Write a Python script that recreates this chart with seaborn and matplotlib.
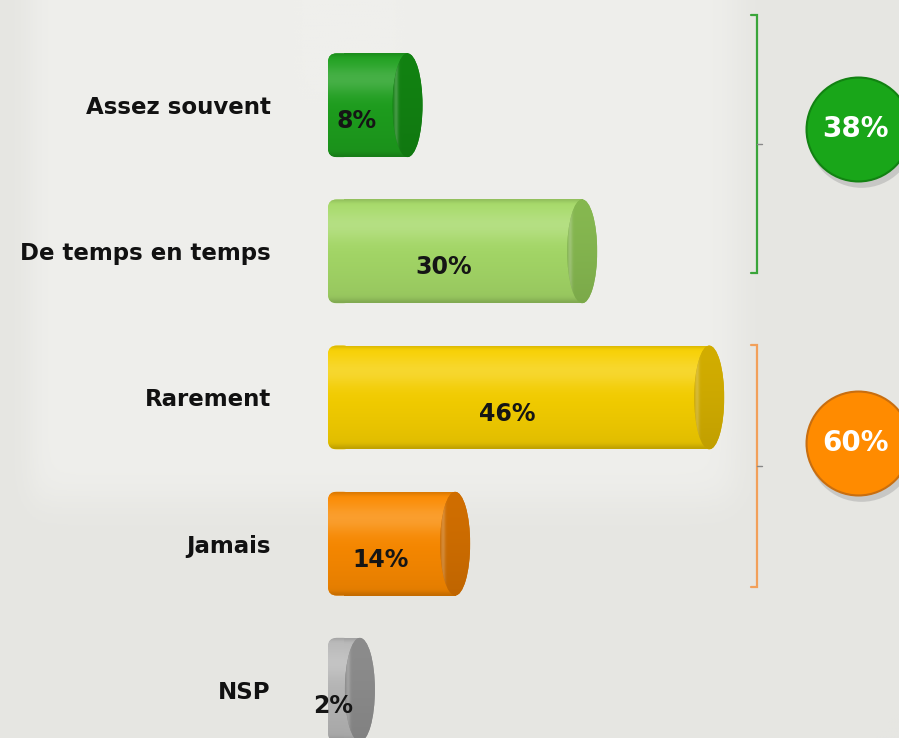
import numpy as np
import pandas as pd
import matplotlib
matplotlib.use('Agg')
import matplotlib.pyplot as plt
import matplotlib.transforms as mtransforms
from matplotlib.patches import Ellipse, FancyBboxPatch
from matplotlib.colors import to_rgb
import seaborn as sns

# data
categories = ['Assez souvent', 'De temps en temps', 'Rarement', 'Jamais', 'NSP']
values = [8, 30, 46, 14, 2]
bar_colors = ['#1ea01e', '#a6da68', '#f7d000', '#fb8a00', '#b8b8b8']
cap_colors = ['#128212', '#86b850', '#d2ad00', '#d06e00', '#8c8c8c']

group_labels = ['38%', '60%']
group_colors = ['#19a619', '#ff8b00']
group_edge_colors = ['#128212', '#c86e10']
group_line_colors = ['#3aa53a', '#f2a05a']
group_spans = [(-0.62, 1.15), (1.64, 3.30)]   # bracket top / bottom (category units)
group_circle_y = [0.16, 2.31]

df = pd.DataFrame({'cat': categories, 'val': values})

sns.set_style('white')
plt.rcParams['font.family'] = ['DejaVu Sans']

fig = plt.figure(figsize=(8.99, 7.38), dpi=100)
fig.patch.set_facecolor('#e6e6e2')

# soft lighter panel in the background
bg = fig.add_axes([0, 0, 1, 1], zorder=-5)
gx = np.linspace(0, 899, 300)
gy = np.linspace(0, 738, 250)
wx = 1 / (1 + np.exp(-(gx - 30) / 8)) * 1 / (1 + np.exp((gx - 735) / 10))
wy = 1 / (1 + np.exp((gy - 500) / 12))
w = wy[:, None] * wx[None, :]
base = np.array(to_rgb('#e6e6e2'))
light = np.array(to_rgb('#efefec'))
bg.imshow(base + (light - base) * w[:, :, None], extent=[0, 899, 738, 0], aspect='auto')
bg.axis('off')

ax = fig.add_axes([300 / 899, 0, 599 / 899, 1])
ax.set_facecolor('none')

bar_h = 0.71
sns.barplot(data=df, x='val', y='cat', hue='cat', palette=bar_colors, legend=False,
            orient='h', width=bar_h, saturation=1, linewidth=0, ax=ax, zorder=2)

xpx = 7.94          # pixels per percent
ypx = 146.0         # pixels per category
xmin, xmax = -44 / xpx, 555 / xpx
cap_w = 2 * 15 / xpx


def vshade(color, n=200):
    t = np.linspace(0, 1, n)
    rgb = np.array(to_rgb(color))
    light = 0.18 * np.exp(-((t - 0.25) / 0.15) ** 2)
    dark = 0.10 * t ** 2 + 0.12 * np.exp(-(t / 0.03) ** 2) + 0.12 * np.exp(-((1 - t) / 0.04) ** 2)
    out = rgb[None, :] + (1 - rgb[None, :]) * light[:, None]
    out = out * (1 - dark[:, None])
    return np.clip(out, 0, 1)[:, None, :]


def cap_shade(color, n=120):
    s = np.linspace(0, 1, n)
    t = np.linspace(0, 1, n)
    rgb = np.array(to_rgb(color))
    rim = 0.22 * np.exp(-((s - 0.10) / 0.08) ** 2)
    dark = 0.08 * t ** 1.5
    img = rgb[None, None, :] + (1 - rgb[None, None, :]) * rim[None, :, None]
    img = img * (1 - dark[:, None, None])
    return np.clip(img, 0, 1)


bars = sorted(ax.patches, key=lambda p: p.get_y())
for i, p in enumerate(bars):
    v = values[i]
    y0 = p.get_y()
    y1 = y0 + p.get_height()
    yc = (y0 + y1) / 2
    # rounded left end
    left = FancyBboxPatch((-16 / xpx, y0), 16 / xpx + 1.0, bar_h,
                          boxstyle='round,pad=0,rounding_size=1.1',
                          mutation_aspect=xpx / ypx,
                          facecolor=bar_colors[i], edgecolor='none', zorder=1.5)
    ax.add_patch(left)
    im = ax.imshow(vshade(bar_colors[i]), extent=[-16 / xpx, 1.0, y1, y0],
                   aspect='auto', origin='upper', zorder=1.6)
    im.set_clip_path(left)
    im2 = ax.imshow(vshade(bar_colors[i]), extent=[0, v, y1, y0],
                    aspect='auto', origin='upper', zorder=2.1)
    im2.set_clip_path(p)
    # end cap of the cylinder
    cap = Ellipse((v, yc), cap_w, bar_h, facecolor=cap_colors[i], edgecolor='none', zorder=3)
    ax.add_patch(cap)
    im3 = ax.imshow(cap_shade(cap_colors[i]), extent=[v - cap_w / 2, v + cap_w / 2, y1, y0],
                    aspect='auto', origin='upper', zorder=3.1)
    im3.set_clip_path(cap)
    ax.text(v / 2 - 2.4, yc + 0.11, f'{v}%', ha='center', va='center', fontsize=17,
            fontweight='bold', color='#151515', zorder=5)

# brackets for the two groups
bx = 413 / xpx
end = 6 / xpx
for (top, bot), col in zip(group_spans, group_line_colors):
    mid = (top + bot) / 2
    ax.plot([bx - end, bx, bx, bx - end], [top, top, bot, bot], color=col, lw=1.6,
            solid_joinstyle='miter', zorder=2)
    ax.plot([bx, bx + 0.6], [mid, mid], color='#888888', lw=1.0, zorder=2)

# circles with group totals
cx = 514 / xpx
shadow = ax.transData + mtransforms.ScaledTranslation(2 / 72, -4 / 72, fig.dpi_scale_trans)
for yc, col, ecol, lab in zip(group_circle_y, group_colors, group_edge_colors, group_labels):
    ax.scatter([cx], [yc], s=5900, color='#9a9a9a', alpha=0.4, linewidths=0,
               transform=shadow, zorder=3, clip_on=False)
    ax.scatter([cx], [yc], s=5600, color=col, edgecolors=ecol,
               linewidths=1.5, zorder=4, clip_on=False)
    ax.text(cx - 0.3, yc, lab, ha='center', va='center', fontsize=20, fontweight='bold',
            color='white', zorder=5, clip_on=False)

ax.set_xlim(xmin, xmax)
ax.set_ylim(4.33, -0.72)
ax.set_xlabel('')
ax.set_ylabel('')
ax.set_xticks([])
ax.tick_params(axis='y', length=0, pad=21, labelsize=16.5)
for lbl in ax.get_yticklabels():
    lbl.set_fontweight('bold')
    lbl.set_color('#111111')
sns.despine(ax=ax, left=True, bottom=True)

fig.savefig('out.png', dpi=100, facecolor=fig.get_facecolor())
